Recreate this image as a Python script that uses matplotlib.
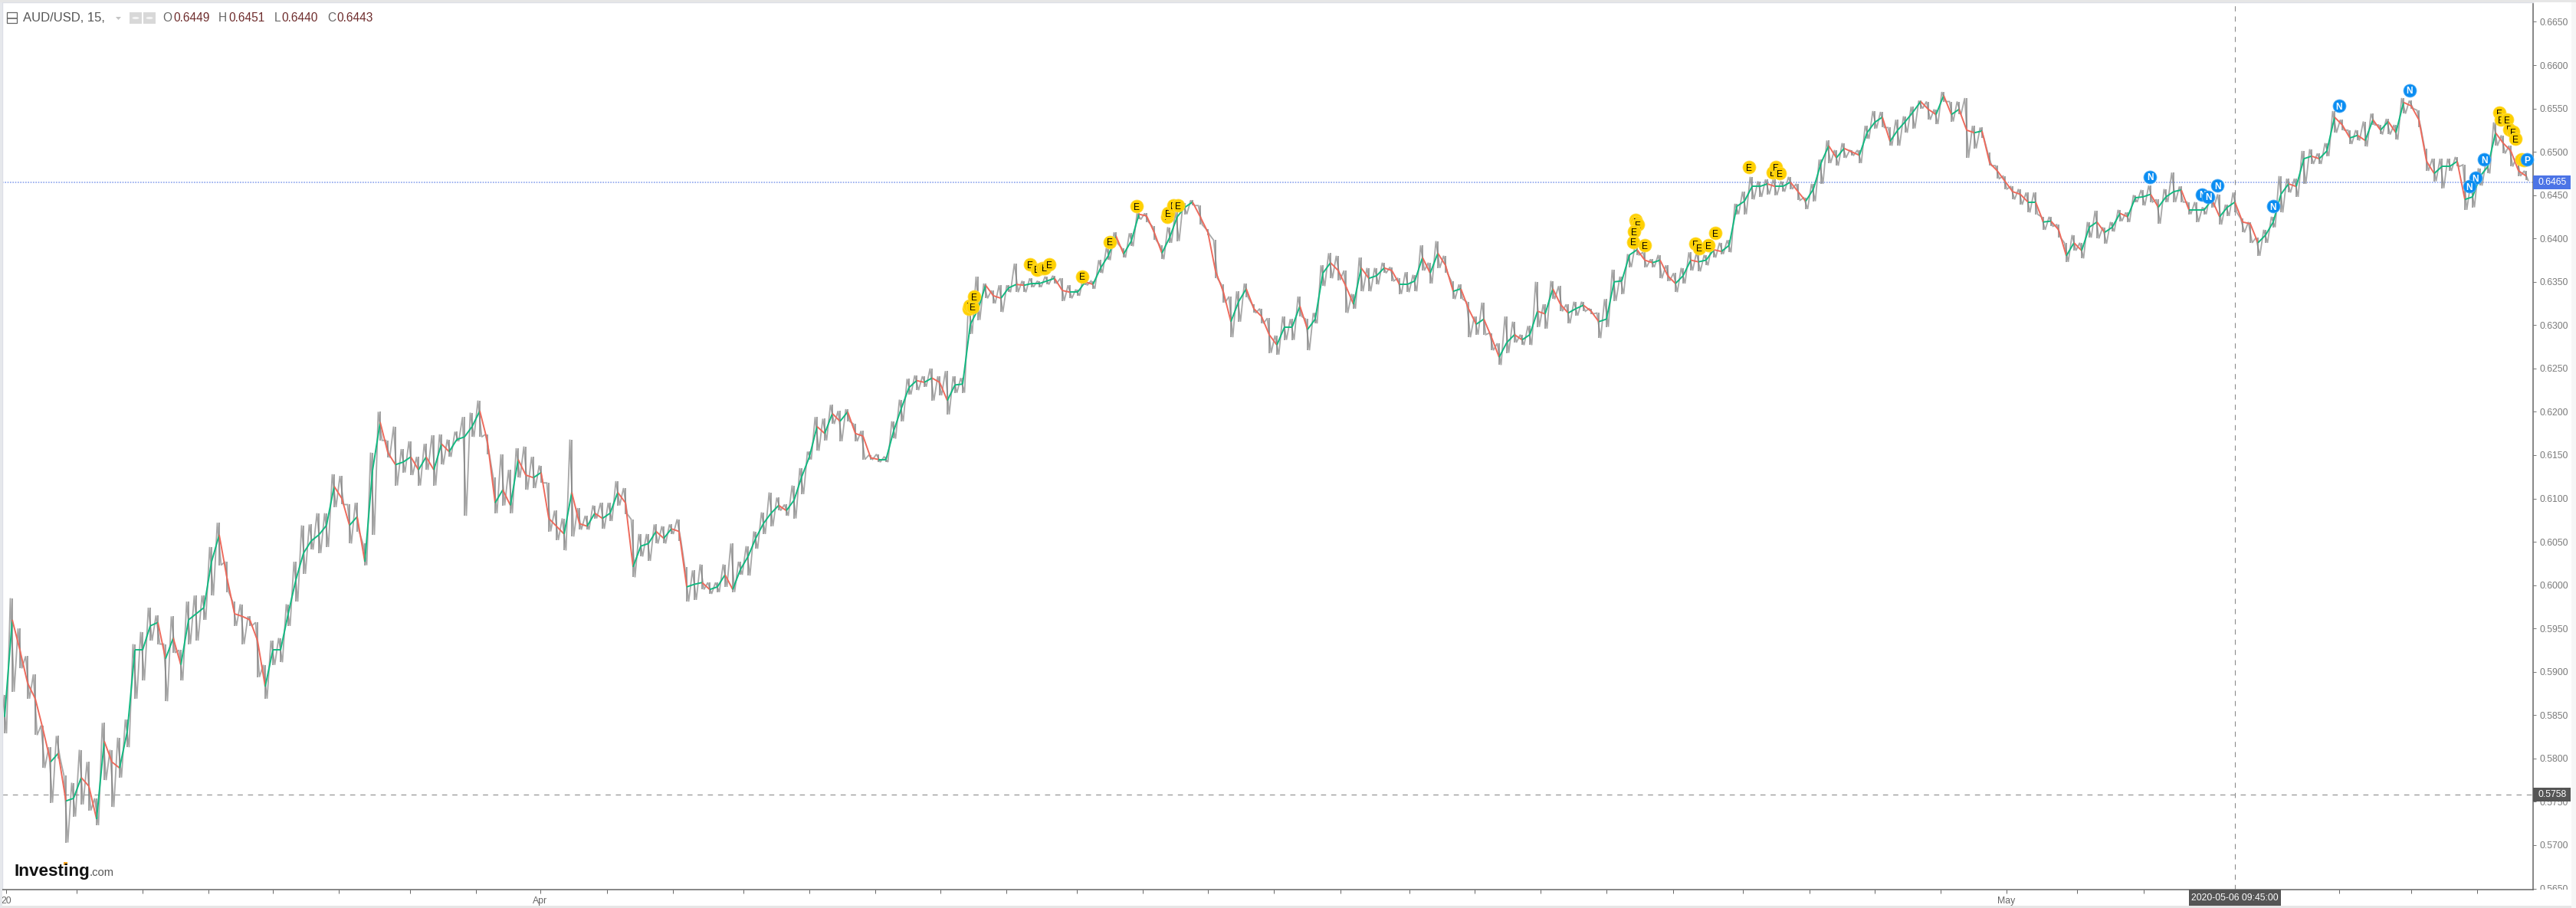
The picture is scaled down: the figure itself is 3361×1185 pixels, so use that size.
# AUD/USD 15 min chart, Investing.com style

import numpy as np
import matplotlib
matplotlib.use('Agg')
import matplotlib.pyplot as plt
from matplotlib.collections import LineCollection
from matplotlib.patches import Rectangle, Circle

plt.rcParams['font.family'] = ['Liberation Sans', 'DejaVu Sans']

# prices in pips (0.0001), one sampled bar every 10 px of the picture
close_pips = [
    5848,5960,5925,5887,5869,5834,5796,5806,5751,5754,
    5778,5768,5730,5820,5796,5789,5831,5925,5925,5953,
    5957,5915,5939,5908,5960,5967,5974,6027,6058,6009,
    5967,5964,5960,5936,5883,5925,5925,5967,6006,6037,
    6051,6058,6069,6114,6100,6069,6079,6027,6132,6188,
    6153,6139,6142,6148,6133,6148,6133,6163,6154,6168,
    6171,6183,6201,6166,6095,6110,6092,6145,6127,6124,
    6130,6077,6068,6059,6107,6071,6068,6083,6077,6083,
    6107,6095,6021,6045,6048,6062,6054,6065,6062,5998,
    6001,6003,5995,5998,6012,5995,6018,6033,6054,6071,
    6083,6092,6086,6098,6125,6148,6183,6175,6198,6189,
    6200,6175,6172,6147,6145,6145,6178,6204,6228,6236,
    6234,6239,6234,6213,6231,6232,6301,6318,6346,6334,
    6331,6343,6347,6346,6348,6348,6351,6354,6340,6338,
    6338,6350,6347,6366,6380,6403,6382,6397,6428,6426,
    6407,6383,6401,6425,6436,6442,6425,6407,6362,6339,
    6304,6327,6342,6319,6310,6289,6277,6298,6298,6322,
    6295,6307,6360,6372,6363,6345,6324,6366,6354,6357,
    6366,6363,6347,6347,6351,6378,6360,6383,6369,6339,
    6342,6319,6301,6307,6286,6263,6280,6289,6283,6289,
    6316,6313,6342,6324,6314,6319,6323,6316,6304,6307,
    6350,6351,6381,6387,6375,6372,6375,6357,6348,6357,
    6375,6373,6375,6387,6385,6392,6437,6443,6460,6460,
    6463,6460,6460,6465,6454,6443,6457,6487,6507,6493,
    6504,6500,6496,6522,6534,6540,6512,6525,6535,6546,
    6558,6549,6543,6565,6543,6549,6525,6522,6524,6487,
    6478,6466,6454,6451,6442,6442,6419,6420,6410,6380,
    6395,6386,6413,6419,6407,6413,6429,6425,6447,6448,
    6451,6436,6448,6454,6456,6433,6433,6433,6445,6425,
    6436,6442,6419,6417,6395,6404,6419,6451,6463,6460,
    6492,6495,6492,6501,6540,6531,6516,6519,6513,6537,
    6525,6535,6522,6557,6553,6537,6489,6475,6483,6483,
    6489,6445,6448,6472,6483,6522,6510,6501,6478,6472,
]
high_pips = [
    5873,5985,5950,5918,5897,5838,5813,5826,5780,5772,
    5810,5796,5754,5841,5810,5824,5845,5932,5946,5974,
    5965,5932,5964,5925,5981,5988,5988,6044,6072,6027,
    5981,5978,5964,5957,5908,5936,5939,5978,6027,6069,
    6070,6083,6083,6128,6126,6093,6095,6048,6153,6200,
    6167,6183,6157,6166,6148,6163,6173,6174,6168,6177,
    6194,6199,6213,6174,6124,6151,6133,6158,6160,6148,
    6138,6118,6086,6077,6168,6089,6080,6092,6095,6095,
    6120,6112,6076,6059,6059,6070,6068,6070,6076,6021,
    6017,6024,6003,6003,6024,6048,6027,6045,6062,6084,
    6107,6101,6093,6115,6135,6154,6194,6192,6208,6201,
    6203,6186,6178,6150,6151,6148,6189,6214,6238,6242,
    6241,6250,6241,6247,6241,6239,6326,6356,6348,6340,
    6346,6346,6371,6351,6354,6351,6356,6357,6354,6346,
    6341,6357,6351,6375,6389,6407,6389,6406,6429,6429,
    6414,6392,6413,6431,6441,6444,6438,6411,6398,6347,
    6333,6339,6348,6324,6319,6308,6288,6310,6307,6333,
    6307,6314,6369,6383,6380,6363,6336,6378,6366,6366,
    6372,6367,6354,6361,6358,6392,6372,6397,6380,6351,
    6347,6327,6310,6326,6291,6279,6310,6304,6289,6299,
    6350,6324,6351,6345,6324,6327,6327,6319,6314,6330,
    6364,6356,6382,6393,6384,6376,6381,6369,6360,6366,
    6384,6384,6381,6393,6395,6398,6440,6454,6471,6466,
    6468,6468,6466,6471,6463,6447,6463,6491,6513,6502,
    6510,6502,6502,6530,6547,6546,6528,6537,6541,6552,
    6559,6558,6549,6569,6558,6558,6562,6530,6528,6499,
    6484,6472,6460,6457,6453,6453,6425,6425,6416,6395,
    6404,6395,6419,6432,6413,6419,6433,6430,6450,6456,
    6461,6445,6457,6476,6460,6442,6442,6436,6451,6451,
    6439,6453,6423,6419,6401,6410,6425,6472,6469,6469,
    6501,6503,6498,6510,6547,6537,6525,6525,6535,6544,
    6531,6538,6531,6562,6559,6548,6504,6492,6492,6492,
    6494,6485,6463,6481,6489,6534,6519,6507,6495,6478,
]
low_pips = [
    5829,5877,5904,5869,5827,5789,5749,5800,5703,5733,
    5747,5740,5723,5775,5744,5778,5813,5869,5890,5936,
    5932,5866,5922,5890,5932,5936,5960,5988,6023,5992,
    5953,5932,5953,5894,5869,5908,5911,5953,5981,6013,
    6041,6037,6044,6090,6093,6048,6062,6023,6058,6167,
    6147,6115,6130,6127,6115,6133,6115,6139,6148,6166,
    6080,6171,6171,6151,6083,6092,6083,6124,6110,6112,
    6118,6062,6052,6040,6056,6064,6064,6077,6065,6074,
    6092,6082,6009,6033,6028,6048,6048,6059,6051,5981,
    5983,5995,5990,5992,5998,5992,6012,6011,6042,6059,
    6068,6086,6080,6077,6105,6145,6155,6167,6186,6166,
    6189,6166,6145,6145,6142,6142,6169,6189,6220,6225,
    6229,6213,6219,6197,6222,6222,6290,6306,6331,6325,
    6315,6338,6338,6338,6344,6344,6347,6348,6328,6331,
    6334,6346,6342,6360,6375,6394,6378,6391,6422,6419,
    6398,6376,6395,6397,6428,6438,6416,6404,6354,6326,
    6286,6304,6332,6314,6302,6268,6266,6283,6283,6310,
    6271,6302,6345,6354,6352,6314,6319,6339,6339,6347,
    6360,6351,6336,6338,6339,6363,6348,6366,6360,6330,
    6330,6286,6289,6289,6271,6254,6268,6280,6277,6277,
    6298,6296,6330,6316,6302,6311,6316,6313,6285,6298,
    6328,6336,6367,6381,6367,6367,6354,6351,6338,6348,
    6363,6362,6369,6378,6382,6384,6428,6428,6445,6448,
    6451,6450,6454,6457,6444,6434,6443,6463,6487,6484,
    6493,6496,6487,6515,6527,6528,6507,6507,6522,6527,
    6550,6537,6532,6558,6535,6543,6493,6504,6516,6484,
    6469,6457,6445,6439,6430,6428,6410,6414,6401,6373,
    6386,6377,6401,6400,6394,6408,6420,6419,6442,6438,
    6442,6417,6442,6442,6442,6428,6419,6428,6436,6416,
    6426,6430,6407,6395,6380,6395,6413,6430,6453,6448,
    6463,6486,6486,6495,6522,6525,6509,6513,6506,6531,
    6520,6520,6514,6544,6550,6528,6478,6466,6458,6478,
    6483,6433,6436,6461,6475,6507,6498,6483,6472,6467,
]

y_tick_values = [0.565, 0.57, 0.575, 0.58, 0.585, 0.59, 0.595, 0.6, 0.605, 0.61,
                 0.615, 0.62, 0.625, 0.63, 0.635, 0.64, 0.645, 0.65, 0.655, 0.66, 0.665]

x_tick_bars = [0.2, 9.4, 18, 26.6, 35, 43.6, 52.9, 61.5, 69.9, 78.6, 87.2, 96.4, 105,
               113.6, 122.1, 130.7, 139.9, 148.5, 157, 165.6, 174.3, 183.3, 191.8, 200.4,
               209, 217.7, 226.8, 235.5, 244, 252.6, 261.2, 270.4, 279.1, 287.6, 296.1,
               304.6, 314, 322.6]
x_tick_names = {0.2: '20', 69.9: 'Apr', 261.2: 'May'}

# event badges on the chart: bar position, price, letter
event_bars = [125.8, 125.9, 126.3, 126.5, 133.8, 134.7, 135.4, 135.7, 136.3, 140.6, 144.2,
              147.7, 151.7, 151.8, 152.5, 153.1, 212.8, 212.9, 213.1, 212.6, 212.5, 214.0,
              220.6, 221.1, 222.3, 223.2, 227.6, 230.7, 231.1, 231.6, 279.9, 286.7, 287.5,
              288.7, 296.0, 304.6, 313.8, 323.5, 322.4, 321.6, 325.5, 325.7, 326.5, 326.8,
              327.3, 327.6, 328.4, 328.7, 329.1]
event_prices = [0.6319, 0.6322, 0.6321, 0.6333, 0.6370, 0.6364, 0.6366, 0.6366, 0.6370, 0.6356,
                0.6396, 0.6437, 0.6425, 0.6429, 0.6438, 0.6438, 0.6421, 0.6419, 0.6416, 0.6408,
                0.6396, 0.6392, 0.6394, 0.6389, 0.6392, 0.6406, 0.6482, 0.6476, 0.6482, 0.6475,
                0.6471, 0.6451, 0.6448, 0.6461, 0.6437, 0.6553, 0.6571, 0.6491, 0.6470, 0.6460,
                0.6545, 0.6537, 0.6537, 0.6526, 0.6523, 0.6515, 0.6491, 0.6490, 0.6491]
event_letters = list('EEEEEEEEEEEEEEEE') + list('EEEEEEEEEEEEEE') + list('NNNNNNNNNN') + \
                list('EEEEEEEE') + ['P']

last_price = 0.6465
cross_price = 0.5758
cross_bar = 291.0
cross_label = '2020-05-06 09:45:00'

W, H = 3361, 1185

close = np.array(close_pips) / 10000
high = np.array(high_pips) / 10000
low = np.array(low_pips) / 10000
bars = np.arange(len(close))

fig = plt.figure(figsize=(W / 100, H / 100), dpi=100, facecolor='white')
ax = fig.add_axes([3 / W, (H - 1161) / H, 3302 / W, 1158 / H])
ax.set_xlim(-0.3, 329.9)
ax.set_ylim(0.56487, 0.66725)


def fig_box(x0, y0, x1, y1, **kw):
    # rectangle in picture pixels, measured from the top left
    r = Rectangle((x0 / W, 1 - y1 / H), (x1 - x0) / W, (y1 - y0) / H,
                  transform=fig.transFigure, **kw)
    fig.add_artist(r)
    return r


def fig_text(x, y, s, **kw):
    return fig.text(x / W, 1 - y / H, s, **kw)


# candles: grey wicks strung together so the range reads as one dense band,
# then coloured moves between closes on top
wick_x = np.column_stack([bars - 0.25, bars + 0.25]).ravel()
wick_y = np.column_stack([high, low]).ravel()
ax.plot(wick_x, wick_y, color='#8a8a8a', lw=1.3, alpha=0.75, zorder=2, solid_joinstyle='miter')
ax.vlines(bars, low, high, color='#808080', lw=1.3, alpha=0.8, zorder=2)
segs = [[(bars[i - 1], close[i - 1]), (bars[i], close[i])] for i in bars[1:]]
cols = ['#12b981' if close[i] >= close[i - 1] else '#ee6a5c' for i in bars[1:]]
ax.add_collection(LineCollection(segs, colors=cols, linewidths=1.4, zorder=3))

ax.axhline(last_price, color='#8ea6ee', lw=1.2, ls=(0, (1, 1)), zorder=1)
ax.axhline(cross_price, color='#8c8c8c', lw=0.8, ls=(0, (6, 6)), zorder=1)
ax.axvline(cross_bar, color='#8c8c8c', lw=0.8, ls=(0, (6, 6)), zorder=1)

for b, p, c in zip(event_bars, event_prices, event_letters):
    face = '#ffd000' if c == 'E' else '#0a8df2'
    edge = '#ffdc40' if c == 'E' else '#56b0f5'
    ax.plot([b], [p], 'o', ms=12.2, mfc=face, mec=edge, mew=0.6, zorder=5, clip_on=False)
    ax.text(b, p, c, color='black' if c == 'E' else 'white', fontsize=8.6,
            fontweight='normal' if c == 'E' else 'bold',
            ha='center', va='center_baseline', zorder=5)

# axes
for side in ['top', 'left']:
    ax.spines[side].set_color('#dcdfe6')
    ax.spines[side].set_linewidth(1.0)
for side in ['bottom', 'right']:
    ax.spines[side].set_color('#666666')
    ax.spines[side].set_linewidth(1.1)

ax.yaxis.tick_right()
ax.set_yticks(y_tick_values)
ax.set_yticklabels(['%.4f' % v for v in y_tick_values])
ax.tick_params(axis='y', length=3, width=0.7, color='#777777', labelcolor='#7a7a7a',
               labelsize=8.8, pad=3)
ax.set_xticks(x_tick_bars)
ax.set_xticklabels([x_tick_names.get(b, '') for b in x_tick_bars])
ax.tick_params(axis='x', length=3.5, width=0.7, color='#666666', labelcolor='#666666',
               labelsize=8.8, pad=3)

# strips round the plot
fig_box(3306, 1161, W, H, facecolor='white', edgecolor='none', zorder=5)
fig_box(0, 1182, W, H, facecolor='#e6e6e6', edgecolor='none', zorder=6)
fig_box(3355, 0, W, H, facecolor='#f6f6f6', edgecolor='none', zorder=6)
fig_box(0, 0, 3, H, facecolor='#e6e8ec', edgecolor='none', zorder=6)
fig_box(0, 0, W, 3, facecolor='#e6e6e6', edgecolor='none', zorder=6)

# price and date flags
y_last = ax.transData.transform((0, last_price))[1]
y_last = H - y_last
y_cross = H - ax.transData.transform((0, cross_price))[1]
x_cross = ax.transData.transform((cross_bar, 0))[0]
fig_box(3305, y_last - 9, 3354, y_last + 9, facecolor='#4c74e6', edgecolor='none', zorder=7)
fig_text(3330, y_last, '%.4f' % last_price, color='white', fontsize=8.8, ha='center',
         va='center', zorder=8)
fig_box(3305, y_cross - 9, 3354, y_cross + 9, facecolor='#555555', edgecolor='none', zorder=7)
fig_text(3330, y_cross, '%.4f' % cross_price, color='white', fontsize=8.8, ha='center',
         va='center', zorder=8)
fig_box(x_cross - 60, 1161, x_cross + 60, 1182, facecolor='#555555', edgecolor='none', zorder=7)
fig_text(x_cross, 1172, cross_label, color='white', fontsize=8.8, ha='center', va='center',
         zorder=8)

# header
fig_box(9, 16, 22, 30, facecolor='none', edgecolor='#666666', lw=0.9, zorder=8)
fig_box(9, 23, 22, 23.5, facecolor='#666666', edgecolor='#666666', lw=0.5, zorder=8)
fig_text(30, 24, 'AUD/USD, 15,', color='#555555', fontsize=12, va='center')
fig.add_artist(plt.Polygon([[151 / W, 1 - 22 / H], [158 / W, 1 - 22 / H], [154.5 / W, 1 - 26 / H]],
                           transform=fig.transFigure, facecolor='#c4c4c4', edgecolor='none'))
fig_box(169, 16, 185, 31, facecolor='#d8d8d8', edgecolor='none')
fig_box(187, 16, 203, 31, facecolor='#d8d8d8', edgecolor='none')
for cx in [177, 195]:
    fig.add_artist(Circle((cx / W, 1 - 23.5 / H), 4.5 / W, transform=fig.transFigure,
                          facecolor='#f4f4f4', edgecolor='none'))

for lx, vx, name, value in [(212, 226, 'O', '0.6449'), (285, 298, 'H', '0.6451'),
                            (358, 367, 'L', '0.6440'), (427, 439, 'C', '0.6443')]:
    fig_text(lx, 24, name, color='#666666', fontsize=11.2, va='center')
    fig_text(vx, 24, value, color='#6e2c2c', fontsize=11.2, va='center')

# logo
fig_text(18, 1143, 'Investing', color='#111111', fontsize=16.2, fontweight='bold', va='baseline')
fig_text(117, 1143, '.com', color='#555555', fontsize=10.6, va='baseline')
fig_box(83, 1125, 88, 1129, facecolor='#f5a623', edgecolor='none')

fig.savefig('out.png', dpi=100)
